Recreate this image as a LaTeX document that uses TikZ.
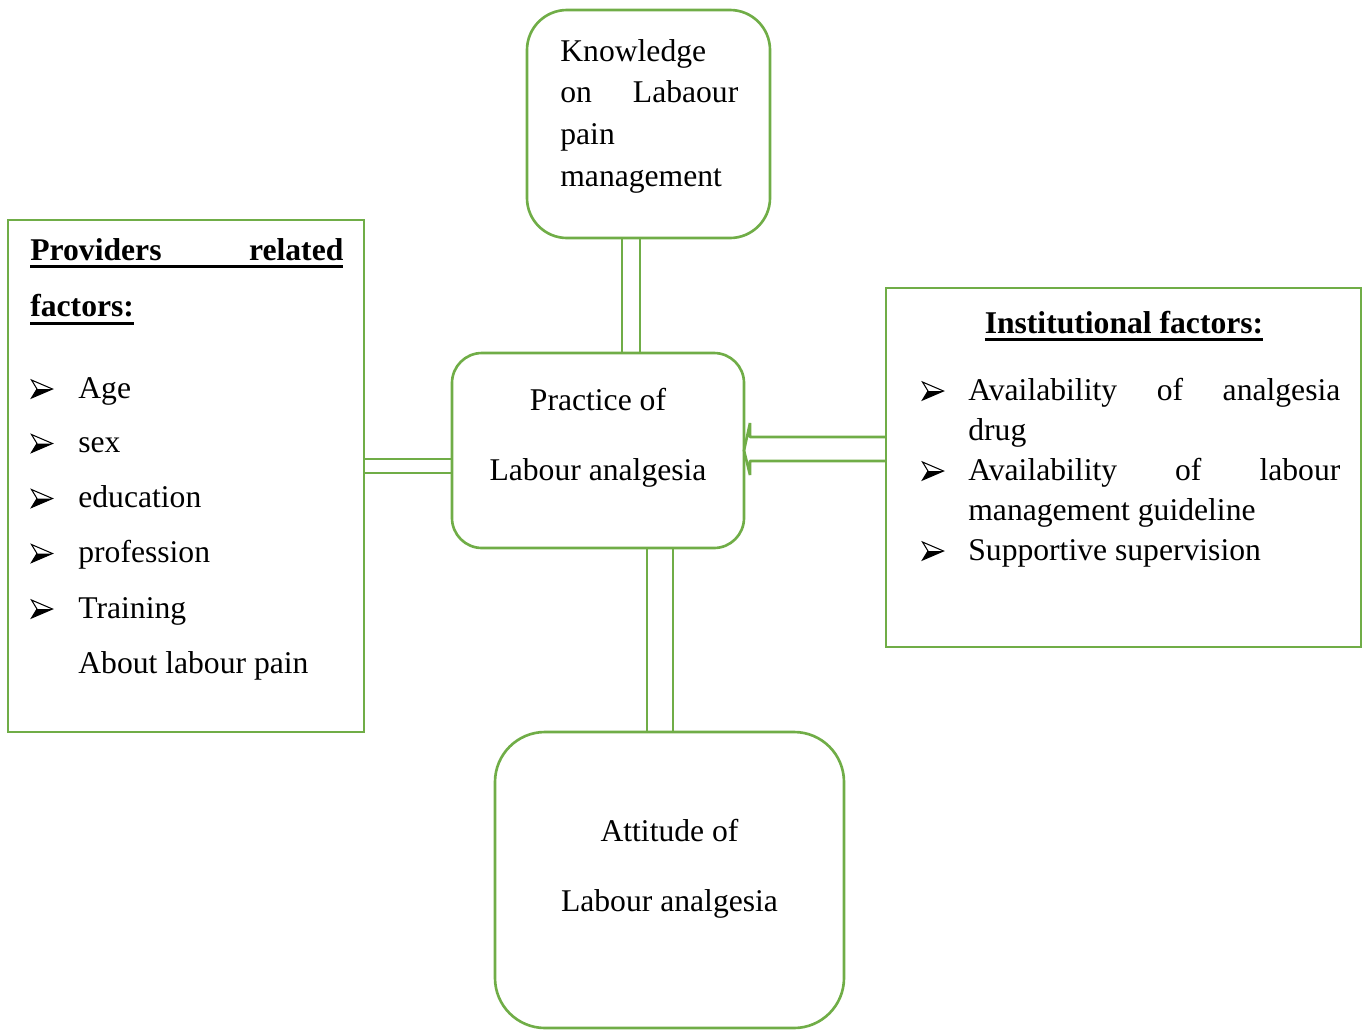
\documentclass[tikz,border=0pt]{standalone}
\usepackage{fontspec}
\setmainfont{Liberation Serif}
\definecolor{leaf}{RGB}{112,173,71}
\newsavebox{\headbox}
\newcommand{\headul}[1]{\sbox{\headbox}{#1}\rlap{\usebox{\headbox}}\rule[-4.6pt]{\wd\headbox}{1.7pt}}

\begin{document}
\begin{tikzpicture}[
  factor/.style={rectangle, draw=leaf, line width=1.5pt, inner sep=0pt, outer sep=0pt},
  topic/.style={factor, rounded corners=0.8cm},
  txt/.style={anchor=base west, inner sep=0pt, font=\fontsize{18}{22}\selectfont},
  head/.style={txt, font=\fontsize{18}{22}\selectfont\bfseries},
  mid/.style={txt, anchor=base},
  link/.style={draw=leaf, line width=1.5pt, line join=bevel},
  arrowhd/.pic={
    \fill[black] (0.21,0) -- (-0.1,0) -- (-0.21,-0.18) -- cycle;
    \draw[black, line width=0.6pt, line join=miter] (0.21,0) -- (-0.21,0.18) -- (-0.1,0) -- (-0.21,-0.18) -- cycle;
  }
]
\useasboundingbox (0,0) rectangle (27.36,-20.6);

% Boxes
\node[topic, minimum width=4.86cm, minimum height=4.56cm] (know) at (12.97,-2.48) {};
\node[factor, minimum width=7.12cm, minimum height=10.24cm] (prov) at (3.72,-9.52) {};
\node[topic, rounded corners=0.6cm, minimum width=5.84cm, minimum height=3.9cm] (prac) at (11.96,-9.01) {};
\node[factor, minimum width=9.5cm, minimum height=7.18cm] (inst) at (22.47,-9.35) {};
\node[topic, rounded corners=1cm, minimum width=6.98cm, minimum height=5.92cm] (att) at (13.39,-17.6) {};

% Connectors
\draw[link] ([xshift=-0.53cm]know.south) rectangle ([xshift=-0.17cm]know.south |- prac.north);
\draw[link] ([xshift=-0.45cm]att.north) rectangle ([xshift=0.07cm]att.north |- prac.south);
\draw[link] ([yshift=0.34cm]prov.east) rectangle ([yshift=0.06cm]prov.east -| prac.west);
\draw[link] ([yshift=0.61cm]inst.west) -- ([shift={(0.12,0.27)}]prac.east)
  -- ([shift={(0.12,0.55)}]prac.east) -- (prac.east) -- ([shift={(0.12,-0.49)}]prac.east)
  -- ([shift={(0.12,-0.21)}]prac.east) -- ([yshift=0.13cm]inst.west);

% Knowledge
\node[txt] (k1) at (11.2,-1.234) {Knowledge};
\node[txt] (k2) at (11.2,-2.054) {\makebox[3.56cm][s]{on Labaour}};
\node[txt] (k3) at (11.2,-2.88) {pain};
\node[txt] (k4) at (11.2,-3.734) {management};

% Practice and attitude
\node[mid] (pr1) at (11.96,-8.21) {Practice of};
\node[mid] (pr2) at (11.96,-9.6) {Labour analgesia};
\node[mid] (at1) at (13.39,-16.83) {Attitude of};
\node[mid] (at2) at (13.39,-18.22) {Labour analgesia};

% Providers related factors
\node[head] (ph1) at (0.6,-5.2) {\headul{\makebox[6.26cm][s]{Providers related}}};
\node[head] (ph2) at (0.6,-6.33) {\headul{factors:}};
\foreach \t/\y [count=\i] in {Age/-7.96, sex/-9.05, education/-10.15, profession/-11.25, Training/-12.36}{
  \pic at (0.84,\y+0.18) {arrowhd};
  \node[txt] (p\i) at (1.56,\y) {\t};
}
\node[txt] (p6) at (1.56,-13.47) {About labour pain};

% Institutional factors
\node[head, anchor=base] (ih) at (22.48,-6.66) {\headul{Institutional factors:}};
\node[txt] (i1) at (19.36,-8.0) {\makebox[7.44cm][s]{Availability of analgesia}};
\node[txt] (i2) at (19.36,-8.8) {drug};
\node[txt] (i3) at (19.36,-9.6) {\makebox[7.44cm][s]{Availability of labour}};
\node[txt] (i4) at (19.36,-10.4) {management guideline};
\node[txt] (i5) at (19.36,-11.2) {Supportive supervision};
\foreach \y in {-8.0,-9.6,-11.2}
  \pic at (18.66,\y+0.18) {arrowhd};

\end{tikzpicture}
\end{document}
